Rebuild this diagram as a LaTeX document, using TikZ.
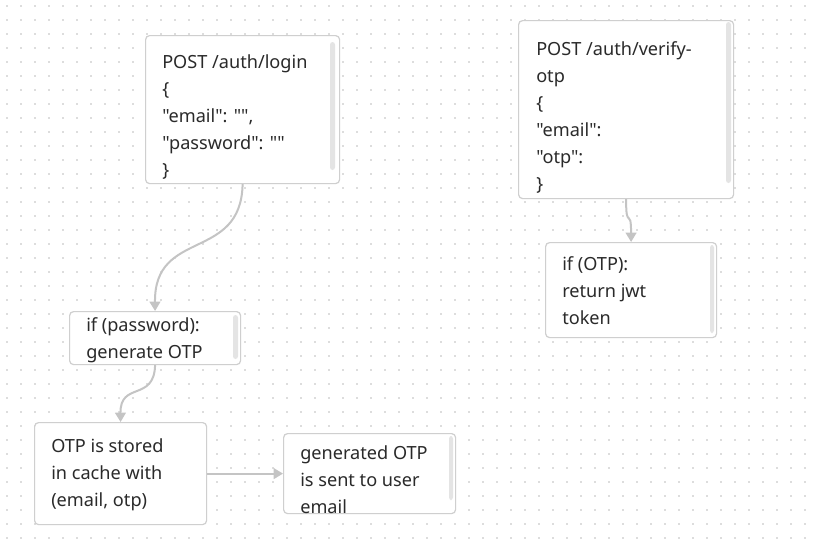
\documentclass[tikz,border=0pt]{standalone}
\usepackage{fontspec}
\setmainfont{Noto Sans}[Ligatures=TeXOff]
\usetikzlibrary{arrows.meta}
\definecolor{gridc}{HTML}{DDDDDD}
\definecolor{boxc}{HTML}{CFCFCF}
\definecolor{barc}{HTML}{E4E4E4}
\definecolor{linec}{HTML}{C4C4C4}
\definecolor{txtc}{HTML}{2A2A2A}
\tikzset{
  card/.style={draw=boxc, line width=0.9pt, fill=white, rounded corners=3pt, inner sep=0pt, anchor=north west},
  sbar/.style={fill=barc, rounded corners=2pt},
  txt/.style={anchor=north west, inner sep=0pt, align=left, text=txtc,
    font=\fontsize{13.6pt}{20.25pt}\selectfont},
  conn/.style={draw=linec, line width=1.5pt, -{Triangle[length=7pt,width=8pt]}},
}
\begin{document}
\begin{tikzpicture}[x=0.75pt,y=-0.75pt]
\useasboundingbox (0,0) rectangle (816,539);
\fill[white] (0,0) rectangle (816,539);
\foreach \i in {0,...,58}{
  \foreach \j in {0,...,38}{
    \fill[gridc] ({7+14*\i-0.6},{6+14*\j-0.6}) rectangle ++(1.2,1.2);
  }
}
% boxes
\node[card, minimum width=145.5pt, minimum height=111pt] (login) at (145,35) {};
\fill[sbar] (330,42) rectangle (335,170);
\node[txt] (logintxt) at (162,54) {POST /auth/login\\\{\\"email": "",\\"password": ""\\\}};

\node[card, minimum width=161.25pt, minimum height=133.5pt] (verify) at (518,20) {};
\fill[sbar] (726,22) rectangle (731,183);
\node[txt] (verifytxt) at (536,41) {POST /auth/verify-\\otp\\\{\\"email":\\"otp":\\\}};

\node[card, minimum width=128.25pt, minimum height=71.25pt] (otp) at (545,242) {};
\fill[sbar] (710,245) rectangle (714,333);
\node[txt] (otptxt) at (562,256) {if (OTP):\\return jwt\\token};

\node[card, minimum width=128.25pt, minimum height=39.75pt] (pass) at (69,311) {};
\fill[sbar] (233,315) rectangle (238,359);
\node[txt] (passtxt) at (86,317) {if (password):\\generate OTP};

\node[card, minimum width=129pt, minimum height=76.5pt] (store) at (34,422) {};
\node[txt] (storetxt) at (51,438) {OTP is stored\\in cache with\\(email, otp)};

\node[card, minimum width=129pt, minimum height=60pt] (sent) at (283,433) {};
\fill[sbar] (449,436) rectangle (453,500);
\node[txt] (senttxt) at (300,445) {generated OTP\\is sent to user\\email};

% connectors
\draw[conn] (login.south) .. controls (241,262) and (154,228) .. (pass.north);
\draw[conn] (pass.south) .. controls (154,402) and (120,381) .. (store.north);
\draw[conn] (store.east) -- (sent.west |- store.east);
\draw[conn] (verify.south) .. controls (626,232) and (631,205) .. (otp.north);
\end{tikzpicture}
\end{document}
